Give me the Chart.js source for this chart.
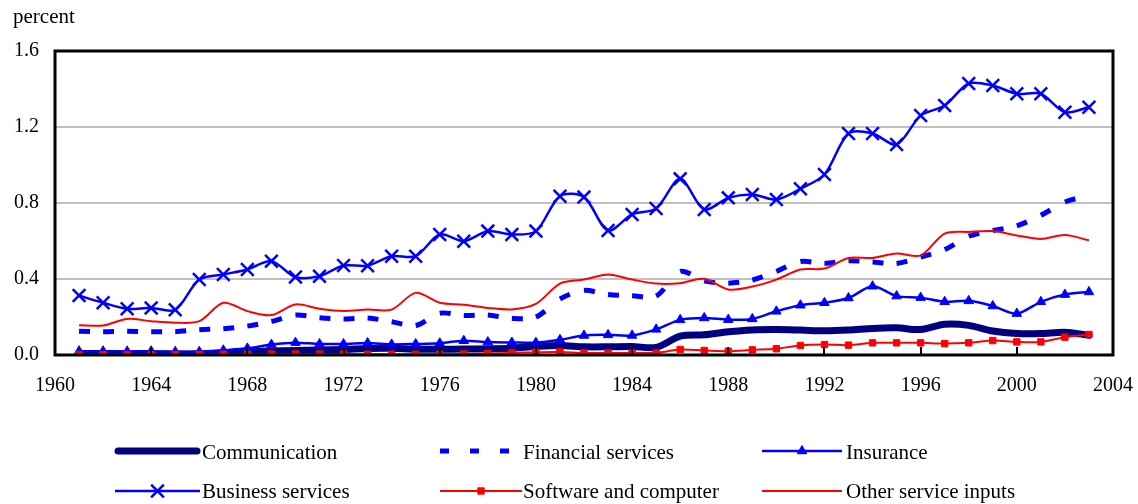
<!DOCTYPE html>
<html>
<head>
<meta charset="utf-8">
<script src="https://cdn.jsdelivr.net/npm/chart.js@4/dist/chart.umd.min.js"></script>
<style>
  html, body { margin: 0; padding: 0; background: #ffffff; }
  #wrap { position: relative; width: 1138px; height: 504px; }
  canvas { display: block; }
</style>
</head>
<body>
<div id="wrap"><canvas id="c" width="1138" height="504"></canvas></div>
<script>
// ---- data ----
const years = [1961,1962,1963,1964,1965,1966,1967,1968,1969,1970,
               1971,1972,1973,1974,1975,1976,1977,1978,1979,1980,
               1981,1982,1983,1984,1985,1986,1987,1988,1989,1990,
               1991,1992,1993,1994,1995,1996,1997,1998,1999,2000,
               2001,2002,2003];

const communication = [0.005,0.005,0.005,0.005,0.005,0.006,0.010,0.017,0.021,0.024,
                       0.026,0.029,0.034,0.035,0.030,0.030,0.031,0.033,0.036,0.045,
                       0.050,0.043,0.043,0.045,0.040,0.099,0.106,0.122,0.132,0.134,
                       0.131,0.127,0.131,0.140,0.143,0.134,0.162,0.156,0.126,0.113,
                       0.113,0.120,0.104];

const financialServices = [0.125,0.122,0.125,0.122,0.123,0.133,0.138,0.152,0.176,0.210,
                           0.196,0.190,0.195,0.175,0.155,0.220,0.208,0.210,0.192,0.200,
                           0.295,0.340,0.318,0.312,0.310,0.440,0.390,0.378,0.395,0.440,
                           0.492,0.482,0.496,0.489,0.482,0.515,0.555,0.625,0.655,0.680,
                           0.735,0.805,0.840];

const insurance = [0.020,0.020,0.019,0.020,0.017,0.017,0.025,0.035,0.055,0.065,
                   0.058,0.058,0.063,0.056,0.058,0.062,0.075,0.068,0.066,0.065,
                   0.080,0.103,0.106,0.103,0.135,0.185,0.195,0.186,0.190,0.230,
                   0.262,0.275,0.300,0.362,0.310,0.302,0.280,0.285,0.258,0.218,
                   0.280,0.318,0.332];

const businessServices = [0.313,0.275,0.243,0.248,0.238,0.397,0.424,0.450,0.494,0.410,
                          0.415,0.471,0.470,0.520,0.520,0.634,0.599,0.652,0.634,0.652,
                          0.836,0.831,0.655,0.740,0.771,0.927,0.766,0.827,0.845,0.818,
                          0.875,0.950,1.166,1.166,1.108,1.260,1.313,1.429,1.418,1.375,
                          1.375,1.278,1.304];

const softwareComputer = [0.003,0.003,0.003,0.003,0.003,0.003,0.004,0.004,0.005,0.005,
                          0.005,0.005,0.004,0.004,0.004,0.004,0.005,0.008,0.011,0.015,
                          0.016,0.011,0.011,0.011,0.011,0.029,0.024,0.020,0.027,0.033,
                          0.050,0.055,0.052,0.064,0.064,0.064,0.060,0.064,0.076,0.069,
                          0.069,0.094,0.108];

const otherServiceInputs = [0.157,0.155,0.190,0.178,0.170,0.178,0.275,0.231,0.210,0.266,
                            0.243,0.231,0.239,0.239,0.327,0.275,0.265,0.248,0.240,0.269,
                            0.376,0.397,0.424,0.397,0.376,0.378,0.401,0.345,0.360,0.397,
                            0.450,0.455,0.511,0.511,0.534,0.524,0.639,0.648,0.652,0.629,
                            0.611,0.631,0.604];

const seriesNames = ['Communication','Financial services','Insurance',
                     'Business services','Software and computer','Other service inputs'];
const yTickValues = [0.0, 0.4, 0.8, 1.2, 1.6];
const xTickYears = [1960,1964,1968,1972,1976,1980,1984,1988,1992,1996,2000,2004];

// ---- build ----
const FONT = "'Liberation Serif','Times New Roman',serif";
const pts = arr => years.map((y, i) => ({ x: y, y: arr[i] }));

const datasets = [
  { label: seriesNames[0], data: pts(communication), borderColor: '#000080', borderWidth: 7,
    pointRadius: 0, tension: 0.3, order: 6, borderCapStyle: 'round' },
  { label: seriesNames[1], data: pts(financialServices), borderColor: '#0000FF', borderWidth: 5,
    borderDash: [11, 13, 0, 60], pointRadius: 0, tension: 0.3, order: 5,
    // one dash per yearly segment, restarting at each point (as in the reference)
    segment: { borderDashOffset: ctx => (ctx.p0DataIndex % 2) * 84 } },
  { label: seriesNames[2], data: pts(insurance), borderColor: '#0000FF', borderWidth: 2.5,
    pointStyle: 'triangle', pointRadius: 5.5, pointBackgroundColor: '#0000FF',
    pointBorderColor: '#0000FF', pointBorderWidth: 1, tension: 0.3, order: 4 },
  { label: seriesNames[3], data: pts(businessServices), borderColor: '#0000FF', borderWidth: 2.5,
    pointStyle: 'crossRot', pointRadius: 9, pointBorderColor: '#0000FF',
    pointBorderWidth: 2.5, tension: 0.3, order: 3 },
  { label: seriesNames[4], data: pts(softwareComputer), borderColor: '#FF0000', borderWidth: 2,
    pointStyle: 'rect', pointRadius: 4.5, pointBackgroundColor: '#FF0000',
    pointBorderColor: '#FF0000', pointBorderWidth: 1, tension: 0.3, order: 2 },
  { label: seriesNames[5], data: pts(otherServiceInputs), borderColor: '#FF0000', borderWidth: 2,
    pointRadius: 0, tension: 0.3, order: 1 }
];

const framePlugin = {
  id: 'frame',
  afterDatasetsDraw(chart) {
    const { ctx, chartArea: a, scales } = chart;
    ctx.save();
    ctx.strokeStyle = '#000';
    ctx.lineWidth = 2;
    xTickYears.forEach(v => {
      const px = Math.round(scales.x.getPixelForValue(v));
      ctx.beginPath();
      ctx.moveTo(px, a.bottom);
      ctx.lineTo(px, a.bottom - 8);
      ctx.stroke();
    });
    ctx.lineWidth = 3;
    ctx.strokeRect(a.left, a.top, a.right - a.left, a.bottom - a.top);
    ctx.restore();
  },
  afterDraw(chart) {
    const ctx = chart.ctx;
    ctx.save();
    ctx.fillStyle = '#000';
    ctx.font = '21px ' + FONT;
    ctx.textBaseline = 'alphabetic';
    ctx.textAlign = 'left';
    ctx.fillText('percent', 13, 23);

    // legend, 3 columns x 2 rows
    const sampleX = [115, 440, 762];
    const sampleLen = [85, 82, 80];
    const textX = [202, 523, 846];
    const rowY = [451, 491];
    const rowBase = [459, 498];
    chart.data.datasets.forEach((ds, i) => {
      const col = i % 3, row = Math.floor(i / 3);
      const x0 = sampleX[col], x1 = sampleX[col] + sampleLen[col], y = rowY[row];
      ctx.save();
      ctx.strokeStyle = ds.borderColor;
      ctx.lineWidth = ds.borderWidth;
      ctx.lineCap = ds.borderCapStyle || 'butt';
      if (ds.borderDash) ctx.setLineDash([9, 21]);
      ctx.beginPath();
      ctx.moveTo(x0 + (ds.borderCapStyle === 'round' ? 3 : 0), y);
      ctx.lineTo(x1 - (ds.borderCapStyle === 'round' ? 3 : 0), y);
      ctx.stroke();
      ctx.setLineDash([]);
      if (ds.pointRadius > 0) {
        ctx.fillStyle = ds.pointBackgroundColor || ds.borderColor;
        ctx.strokeStyle = ds.pointBorderColor || ds.borderColor;
        ctx.lineWidth = ds.pointBorderWidth || 1;
        Chart.helpers.drawPoint(ctx, {
          pointStyle: ds.pointStyle, radius: ds.pointRadius,
          borderWidth: ds.pointBorderWidth || 1, rotation: 0
        }, (x0 + x1) / 2, y);
      }
      ctx.restore();
      ctx.fillStyle = '#000';
      ctx.font = '21px ' + FONT;
      ctx.fillText(ds.label, textX[col], rowBase[row]);
    });
    ctx.restore();
  }
};

new Chart(document.getElementById('c'), {
  type: 'line',
  data: { datasets },
  options: {
    responsive: false,
    animation: false,
    layout: { padding: { left: 0, top: 51, right: 25, bottom: 104 } },
    plugins: { legend: { display: false }, tooltip: { enabled: false }, title: { display: false } },
    elements: { line: { fill: false } },
    scales: {
      x: {
        type: 'linear', min: 1960, max: 2004,
        afterBuildTicks: s => { s.ticks = xTickYears.map(v => ({ value: v })); },
        afterFit: s => { s.height = 45; s.paddingLeft = 0; s.paddingRight = 0; },
        grid: { display: false, drawTicks: false },
        border: { display: false },
        ticks: { color: '#000', font: { family: FONT, size: 20 }, padding: 19,
                 maxRotation: 0, autoSkip: false, callback: v => String(v) }
      },
      y: {
        min: 0, max: 1.6,
        afterBuildTicks: s => { s.ticks = yTickValues.map(v => ({ value: v })); },
        afterFit: s => { s.width = 55; s.paddingTop = 0; s.paddingBottom = 0; },
        grid: {
          drawTicks: false, lineWidth: 2,
          color: c => (c.tick && (c.tick.value === 0 || Math.abs(c.tick.value - 1.6) < 1e-9)) ? 'rgba(0,0,0,0)' : '#C0C0C0'
        },
        border: { display: false },
        ticks: { color: '#000', font: { family: FONT, size: 20 }, padding: 16,
                 callback: v => Number(v).toFixed(1) }
      }
    }
  },
  plugins: [framePlugin]
});
</script>
</body>
</html>
